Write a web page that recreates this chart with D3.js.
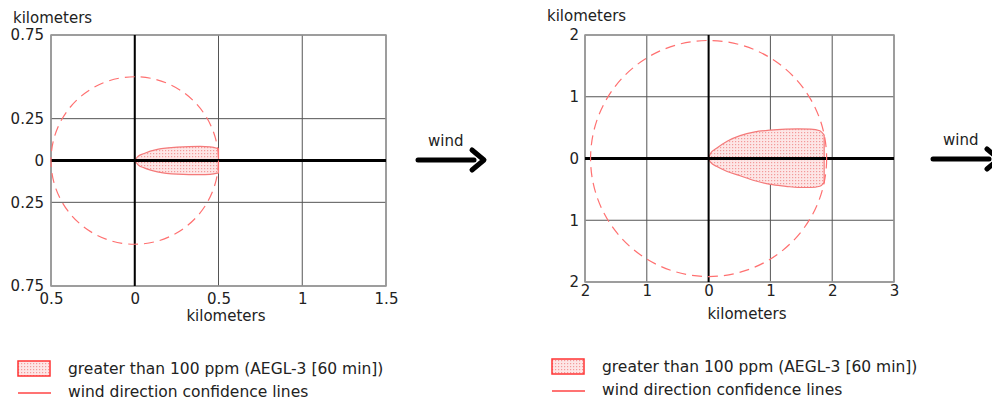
<!DOCTYPE html>
<html lang="en">
<head>
<meta charset="UTF-8">
<title>Threat zone plots</title>
<script src="https://d3js.org/d3.v7.min.js"></script>
<style>
    body { margin: 0; background: #fff; }
    svg text { font-family: "DejaVu Sans", Verdana, sans-serif; }
    .lbl { font-size: 15px; fill: #222; }
    .leg { font-size: 15.5px; fill: #222; }
</style>
</head>
<body>
<svg id="chart" width="992" height="400"></svg>
<script>
// left panel (zoomed-in view)
const leftXTicks = [-0.5, 0, 0.5, 1, 1.5];
const leftYTicks = [-0.75, -0.25, 0, 0.25, 0.75];
const leftRadius = 0.5;
const leftPlumeX      = [0, 0.02, 0.056, 0.135, 0.255, 0.39, 0.45, 0.5];
const leftPlumeTop    = [0, 0.026, 0.042, 0.066, 0.08, 0.084, 0.081, 0.07];
const leftPlumeBottom = [0, 0.026, 0.044, 0.068, 0.082, 0.085, 0.083, 0.074];

// right panel (wider view)
const rightXTicks = [-2, -1, 0, 1, 2, 3];
const rightYTicks = [-2, -1, 0, 1, 2];
const rightRadius = 1.91;
const rightPlumeX      = [0, 0.03, 0.135, 0.3, 0.51, 0.75, 1.0, 1.25, 1.45, 1.65, 1.8, 1.87];
const rightPlumeTop    = [0, 0.08, 0.17, 0.28, 0.37, 0.43, 0.46, 0.475, 0.48, 0.475, 0.45, 0.38];
const rightPlumeBottom = [0, 0.06, 0.13, 0.21, 0.28, 0.36, 0.42, 0.45, 0.47, 0.47, 0.45, 0.39];

const legendItems = ["greater than 100 ppm (AEGL-3 [60 min])", "wind direction confidence lines"];

var svg = d3.select("#chart");

// stipple fill for the threat zone
var pat = svg.append("defs").append("pattern")
    .attr("id", "stipple")
    .attr("width", 3).attr("height", 3)
    .attr("patternUnits", "userSpaceOnUse");
pat.append("rect").attr("width", 3).attr("height", 3).attr("fill", "#fde6e6");
pat.append("rect").attr("width", 1.2).attr("height", 1.2).attr("fill", "#f39a9a");

function renderPanel(o) {
    var x = d3.scaleLinear().domain(o.xDomain).range(o.xRange),
        y = d3.scaleLinear().domain(o.yDomain).range(o.yRange);
    var g = svg.append("g");

    // grid
    g.selectAll(".vgrid").data(o.xTicks).enter().append("line")
        .attr("x1", d => x(d)).attr("x2", d => x(d))
        .attr("y1", o.yRange[0]).attr("y2", o.yRange[1])
        .attr("stroke", "#555").attr("stroke-width", 1);
    g.selectAll(".hgrid").data(o.yTicks).enter().append("line")
        .attr("y1", d => y(d)).attr("y2", d => y(d))
        .attr("x1", o.xRange[0]).attr("x2", o.xRange[1])
        .attr("stroke", "#555").attr("stroke-width", 1);
    g.append("rect")
        .attr("x", o.xRange[0]).attr("y", o.yRange[1])
        .attr("width", o.xRange[1] - o.xRange[0])
        .attr("height", o.yRange[0] - o.yRange[1])
        .attr("fill", "none").attr("stroke", "#999").attr("stroke-width", 1.5);

    // plume
    var pts = o.plumeX.map((v, i) => ({x: v, top: o.plumeTop[i], bot: o.plumeBottom[i]}));
    g.append("path")
        .datum(pts)
        .attr("d", d3.area()
            .x(d => x(d.x))
            .y0(d => y(-d.bot))
            .y1(d => y(d.top))
            .curve(d3.curveMonotoneX))
        .attr("fill", "url(#stipple)")
        .attr("stroke", "#f47a7a").attr("stroke-width", 1.2);

    // main axes
    g.append("line")
        .attr("x1", o.xRange[0]).attr("x2", o.xRange[1])
        .attr("y1", y(0)).attr("y2", y(0))
        .attr("stroke", "#000").attr("stroke-width", 3);
    g.append("line")
        .attr("x1", x(0)).attr("x2", x(0))
        .attr("y1", o.yRange[0]).attr("y2", o.yRange[1])
        .attr("stroke", "#000").attr("stroke-width", 2);

    // confidence circle
    g.append("circle")
        .attr("cx", x(0)).attr("cy", y(0))
        .attr("r", x(o.radius) - x(0))
        .attr("fill", "none")
        .attr("stroke", "#ff7070").attr("stroke-width", 1.2)
        .attr("stroke-dasharray", "10,6");

    // tick labels
    g.append("g")
        .attr("transform", "translate(" + o.xRange[0] + ",0)")
        .call(d3.axisLeft(y).tickValues(o.yTicks).tickSize(0).tickPadding(o.yPad)
            .tickFormat(d => Math.abs(d)))
        .call(a => a.select(".domain").remove());
    g.append("g")
        .attr("transform", "translate(0," + o.yRange[0] + ")")
        .call(d3.axisBottom(x).tickValues(o.xTicks).tickSize(0).tickPadding(o.xPad)
            .tickFormat(d => Math.abs(d)))
        .call(a => a.select(".domain").remove());
    g.selectAll(".tick text")
        .attr("fill", "#222")
        .style("font-family", "'DejaVu Sans', Verdana, sans-serif")
        .style("font-size", "15px");

    // axis titles
    g.append("text").attr("class", "lbl")
        .attr("x", o.yTitle[0]).attr("y", o.yTitle[1])
        .text("kilometers");
    g.append("text").attr("class", "lbl")
        .attr("x", o.xTitle[0]).attr("y", o.xTitle[1])
        .attr("text-anchor", "middle")
        .text("kilometers");

    // wind arrow
    var w = o.wind;
    g.append("text").attr("class", "lbl")
        .attr("x", w[0] + 10).attr("y", w[1] - 14)
        .text("wind");
    g.append("line")
        .attr("x1", w[0]).attr("x2", w[0] + 56)
        .attr("y1", w[1]).attr("y2", w[1])
        .attr("stroke", "#000").attr("stroke-width", 5).attr("stroke-linecap", "round");
    g.append("path")
        .attr("d", "M" + (w[0] + 54) + "," + (w[1] - 10) + " L" + (w[0] + 66) + "," + w[1] +
            " L" + (w[0] + 54) + "," + (w[1] + 10))
        .attr("fill", "none").attr("stroke", "#000").attr("stroke-width", 5)
        .attr("stroke-linejoin", "round").attr("stroke-linecap", "round");

    // legend
    var lg = o.legend;
    g.append("rect")
        .attr("x", lg[0]).attr("y", lg[1])
        .attr("width", 32).attr("height", 15)
        .attr("fill", "url(#stipple)")
        .attr("stroke", "#f33").attr("stroke-width", 1.5);
    g.append("text").attr("class", "leg")
        .attr("x", lg[0] + 50).attr("y", lg[1] + 13)
        .text(legendItems[0]);
    g.append("line")
        .attr("x1", lg[0]).attr("x2", lg[0] + 33)
        .attr("y1", lg[1] + 32).attr("y2", lg[1] + 32)
        .attr("stroke", "#f44").attr("stroke-width", 1.5);
    g.append("text").attr("class", "leg")
        .attr("x", lg[0] + 50).attr("y", lg[1] + 36)
        .text(legendItems[1]);
}

renderPanel({
    xDomain: [-0.5, 1.5], xRange: [51, 386],
    yDomain: [-0.75, 0.75], yRange: [286, 35],
    xTicks: leftXTicks, yTicks: leftYTicks,
    radius: leftRadius,
    plumeX: leftPlumeX, plumeTop: leftPlumeTop, plumeBottom: leftPlumeBottom,
    yPad: 7, xPad: 7,
    yTitle: [13, 23], xTitle: [226, 321],
    wind: [418, 160],
    legend: [18, 361]
});

renderPanel({
    xDomain: [-2, 3], xRange: [585, 894],
    yDomain: [-2, 2], yRange: [282, 35],
    xTicks: rightXTicks, yTicks: rightYTicks,
    radius: rightRadius,
    plumeX: rightPlumeX, plumeTop: rightPlumeTop, plumeBottom: rightPlumeBottom,
    yPad: 6, xPad: 3,
    yTitle: [547, 21], xTitle: [747, 319],
    wind: [933, 159],
    legend: [552, 359]
});
</script>
</body>
</html>
